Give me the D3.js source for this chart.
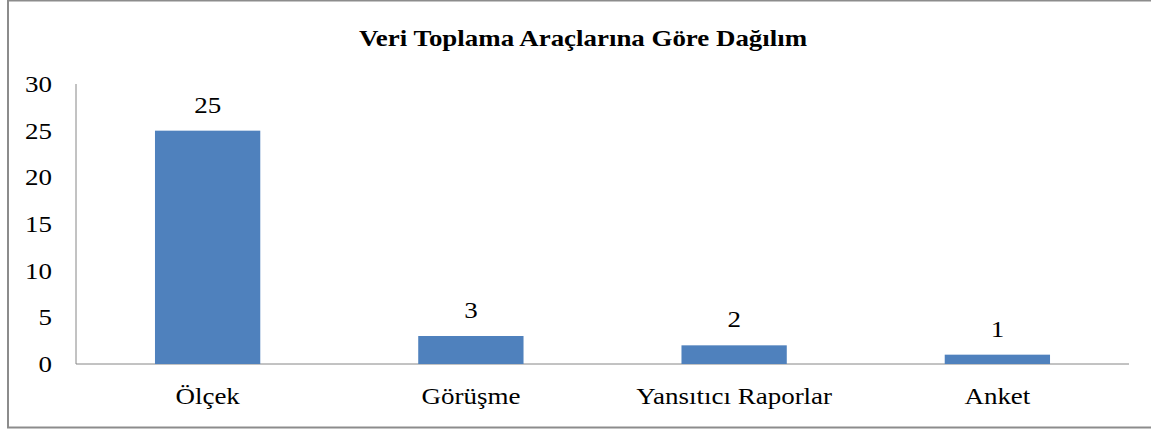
<!DOCTYPE html>
<html><head><meta charset="utf-8">
<script src="https://cdn.jsdelivr.net/npm/d3@7"></script>
<style>body{margin:0;background:#fff}svg{display:block}</style>
</head><body>
<svg id="c" width="1151" height="430"></svg>
<script>
const categories = ["Ölçek", "Görüşme", "Yansıtıcı Raporlar", "Anket"];
const values = [25, 3, 2, 1];
const yTicks = [0, 5, 10, 15, 20, 25, 30];
const title = "Veri Toplama Araçlarına Göre Dağılım";

const FONT = '"Liberation Serif"';
const svg = d3.select("#c");
const m = {left: 76, right: 1129, top: 84, bottom: 364};

svg.append("rect").attr("x", 8).attr("y", 0.5).attr("width", 1160).attr("height", 427)
  .attr("fill", "#fff").attr("stroke", "#8c8c8c").attr("stroke-width", 2);

const x = d3.scaleBand().domain(categories).range([m.left, m.right]).paddingInner(0.6).paddingOuter(0.3);
const y = d3.scaleLinear().domain([0, 30]).range([m.bottom, m.top]);

function txt(sel, size, cx, cy, sx) {
  sel.style("font-family", FONT).style("font-size", size + "px").attr("fill", "#000")
     .attr("x", 0).attr("y", 0)
     .attr("transform", (d, i) => `translate(${typeof cx === "function" ? cx(d, i) : cx},${typeof cy === "function" ? cy(d, i) : cy}) scale(${sx},1)`);
}

// title
svg.append("text").text(title).style("font-weight", "bold").attr("text-anchor", "middle")
  .call(txt, 23, 583, 46, 1.17);

// y axis line
svg.append("line").attr("x1", m.left).attr("x2", m.left).attr("y1", y(30)).attr("y2", y(0))
  .attr("stroke", "#868686").attr("stroke-width", 1);
// baseline
svg.append("line").attr("x1", m.left).attr("x2", m.right).attr("y1", y(0)).attr("y2", y(0))
  .attr("stroke", "#868686").attr("stroke-width", 1);

// y tick labels
svg.append("g").selectAll("text").data(yTicks).join("text")
  .text(d => d).attr("text-anchor", "end")
  .call(txt, 22.5, 52, d => y(d) + 8, 1.2);

// bars
svg.append("g").selectAll("rect").data(values).join("rect")
  .attr("x", (d, i) => x(categories[i])).attr("width", x.bandwidth())
  .attr("y", d => y(d)).attr("height", d => y(0) - y(d)).attr("fill", "#4f81bd");

// value labels
svg.append("g").selectAll("text").data(values).join("text")
  .text(d => d).attr("text-anchor", "middle")
  .call(txt, 22.5, (d, i) => x(categories[i]) + x.bandwidth()/2, d => y(d) - 18, 1.2);

// category labels
svg.append("g").selectAll("text").data(categories).join("text")
  .text(d => d).attr("text-anchor", "middle")
  .call(txt, 22.5, d => x(d) + x.bandwidth()/2, 404, 1.2);
</script>
</body></html>
